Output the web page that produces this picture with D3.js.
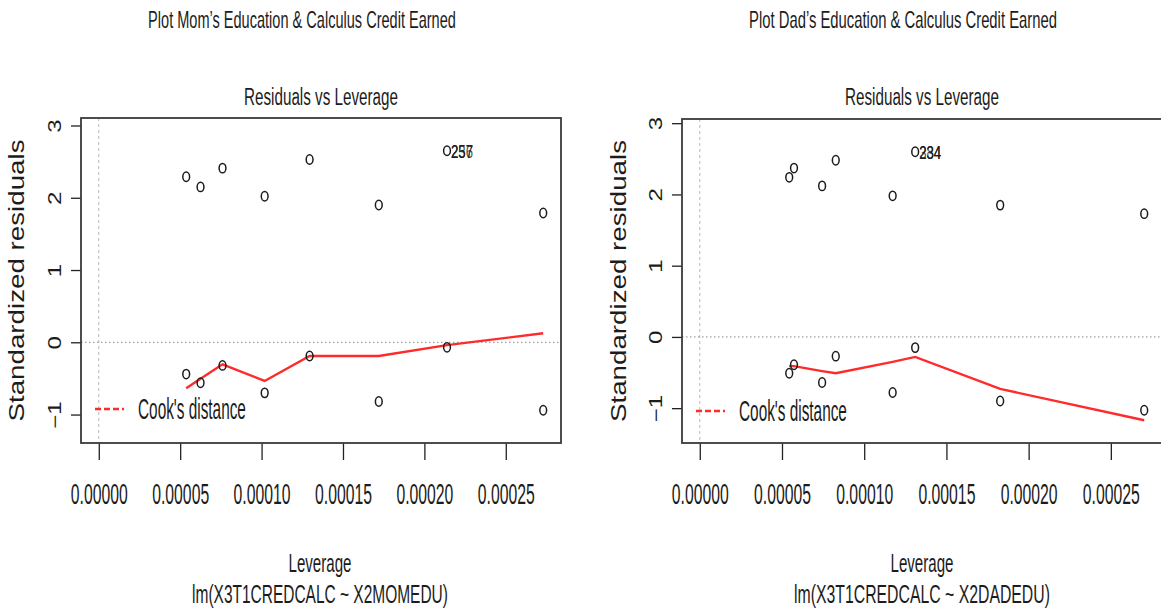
<!DOCTYPE html>
<html>
<head>
<meta charset="utf-8">
<title>Residuals vs Leverage</title>
<script src="https://cdn.jsdelivr.net/npm/d3@7"></script>
<style>
  body { margin: 0; background: #fff; }
  text { font-family: "Liberation Sans", Arial, sans-serif; fill: #1c1c1c; }
</style>
</head>
<body>
<div id="container"></div>
<script>

// Axis ticks shared by both panels
const leverageTicks = [0, 0.00005, 0.0001, 0.00015, 0.0002, 0.00025];
const residTicks = [-1, 0, 1, 2, 3];

// Mom's education model (lm(X3T1CREDCALC ~ X2MOMEDU))
const momLeverage  = [0.0000537, 0.0000625, 0.0000760, 0.0001019, 0.0001295, 0.0001720, 0.0002139, 0.0002730];
const momResidHigh = [2.29, 2.15, 2.41, 2.02, 2.53, 1.90, 2.65, 1.79];
const momResidLow  = [-0.44, -0.56, -0.32, -0.70, -0.19, -0.82, -0.07, -0.94];
const momSmooth    = [-0.635, -0.505, -0.305, -0.535, -0.19, -0.19, -0.04, 0.125];
const momLabels    = ["237", "256", "257"];

// Dad's education model (lm(X3T1CREDCALC ~ X2DADEDU))
const dadLeverage  = [0.0000544, 0.0000573, 0.0000744, 0.0000827, 0.0001173, 0.0001310, 0.0001827, 0.0002703];
const dadResidHigh = [2.24, 2.37, 2.12, 2.48, 1.98, 2.60, 1.85, 1.73];
const dadResidLow  = [-0.51, -0.39, -0.64, -0.27, -0.78, -0.15, -0.90, -1.03];
const dadSmooth    = [-0.41, -0.41, -0.48, -0.51, -0.35, -0.28, -0.73, -1.17];
const dadLabels    = ["234", "284", "334"];

const width = 1161, height = 611;

const svg = d3.select("#container")
  .append("svg")
  .attr("width", width)
  .attr("height", height);

// same as R's extendrange()
function extendRange(r, f) {
  const d = (r[1] - r[0]) * f;
  return [r[0] - d, r[1] + d];
}

// squeeze a text horizontally so it is len px wide (the reference is condensed)
function squeeze(sel, x, y, len, anchor) {
  sel.each(function() {
    const w = this.getComputedTextLength();
    d3.select(this)
      .attr("x", null).attr("y", null).attr("dy", null)
      .attr("text-anchor", anchor || "middle")
      .attr("transform", `translate(${x},${y}) scale(${len / w},1)`);
  });
  return sel;
}

function label(g, txt, cx, y, size, len, anchor) {
  const t = g.append("text").style("font-size", size + "px").text(txt);
  return squeeze(t, cx, y, len, anchor);
}

function drawPanel(cfg) {
  const g = svg.append("g");

  const x = d3.scaleLinear()
    .domain(extendRange([0, d3.max(cfg.lev)], 0.04))
    .range([cfg.left, cfg.right]);

  const allResid = cfg.high.concat(cfg.low);
  const y = d3.scaleLinear()
    .domain(extendRange(extendRange(d3.extent(allResid), 0.08), 0.04))
    .range([cfg.bottom, cfg.top]);

  // reference lines at 0
  g.append("line")
    .attr("x1", x(0)).attr("x2", x(0))
    .attr("y1", cfg.top).attr("y2", cfg.bottom)
    .attr("stroke", "#b8b8b8").attr("stroke-width", 1)
    .attr("stroke-dasharray", "3,3");
  g.append("line")
    .attr("x1", cfg.left).attr("x2", cfg.right)
    .attr("y1", y(0)).attr("y2", y(0))
    .attr("stroke", "#a0a0a0").attr("stroke-width", 1.2)
    .attr("stroke-dasharray", "1.5,2.5");

  // X axis
  const xAxis = g.append("g")
    .attr("transform", `translate(0,${cfg.bottom})`)
    .call(d3.axisBottom(x).tickValues(leverageTicks).tickSize(17).tickFormat(d3.format(".5f")));
  xAxis.select(".domain").remove();
  xAxis.selectAll(".tick line").attr("stroke", "#222").attr("stroke-width", 1.3);
  xAxis.selectAll(".tick text")
    .attr("fill", "#1c1c1c")
    .style("font-size", "30px")
    .style("font-family", "Liberation Sans, Arial, sans-serif")
    .call(s => squeeze(s, 0, 61, 57));

  // Y axis
  const yAxis = g.append("g")
    .attr("transform", `translate(${cfg.left},0)`)
    .call(d3.axisLeft(y).tickValues(residTicks).tickSize(10).tickFormat(d3.format("d")));
  yAxis.select(".domain").remove();
  yAxis.selectAll(".tick line").attr("stroke", "#222").attr("stroke-width", 1.3);
  yAxis.selectAll(".tick text")
    .attr("x", null).attr("dy", null)
    .attr("text-anchor", "middle")
    .attr("fill", "#1c1c1c")
    .style("font-size", "24px")
    .style("font-family", "Liberation Sans, Arial, sans-serif")
    .attr("transform", `translate(${cfg.yTickX - cfg.left + 8},0) scale(0.75,1) rotate(-90)`)
    .text(d => d < 0 ? "\u2212" + Math.abs(d) : d);

  // box
  g.append("rect")
    .attr("x", cfg.left).attr("y", cfg.top)
    .attr("width", cfg.right - cfg.left).attr("height", cfg.bottom - cfg.top)
    .attr("fill", "none").attr("stroke", "#3a3a3a").attr("stroke-width", 1.8);

  // smooth line
  const line = d3.line().x(d => x(d[0])).y(d => y(d[1]));
  g.append("path")
    .datum(d3.zip(cfg.lev, cfg.smooth))
    .attr("d", line)
    .attr("fill", "none").attr("stroke", "#ff2a2a").attr("stroke-width", 2.4);

  // points
  const pts = d3.zip(cfg.lev, cfg.high).concat(d3.zip(cfg.lev, cfg.low));
  g.selectAll(".pt")
    .data(pts)
    .enter().append("ellipse")
    .attr("class", "pt")
    .attr("cx", d => x(d[0])).attr("cy", d => y(d[1]))
    .attr("rx", 3.4).attr("ry", 4.7)
    .attr("fill", "none").attr("stroke", "#1c1c1c").attr("stroke-width", 1.5);

  // labels on the top point (all three land at the same spot)
  const topIdx = d3.maxIndex(cfg.high);
  cfg.labels.forEach(t => {
    label(g, t, x(cfg.lev[topIdx]) + 4, y(cfg.high[topIdx]) + 7, 19, 22, "start")
      .attr("fill-opacity", 0.8);
  });

  // legend
  g.append("line")
    .attr("x1", cfg.left + 14).attr("x2", cfg.left + 43)
    .attr("y1", cfg.legendY).attr("y2", cfg.legendY)
    .attr("stroke", "#ff2a2a").attr("stroke-width", 2.4)
    .attr("stroke-dasharray", "6,3");
  label(g, "Cook's distance", cfg.left + 57, cfg.legendY + 10, 29, 108, "start");

  // titles
  const cx = (cfg.left + cfg.right) / 2;
  label(g, cfg.title, cfg.titleX, 28, 23, 308);
  label(g, "Residuals vs Leverage", cx, 105, 23, 154);
  label(g, "Leverage", cfg.axisX, 572, 25, 63);
  label(g, cfg.formula, cfg.axisX, 603, 25, 256);

  // y label
  g.append("text")
    .attr("transform", `translate(${cfg.yLabelX + 8},${(cfg.top + cfg.bottom) / 2}) scale(0.78,1) rotate(-90)`)
    .attr("text-anchor", "middle")
    .style("font-size", "28px")
    .attr("textLength", 282)
    .attr("lengthAdjust", "spacingAndGlyphs")
    .text("Standardized residuals");
}

drawPanel({
  lev: momLeverage, high: momResidHigh, low: momResidLow, smooth: momSmooth, labels: momLabels,
  left: 81, right: 561, top: 118, bottom: 443,
  yTickX: 53, yLabelX: 16, legendY: 409,
  title: "Plot Mom\u2019s Education & Calculus Credit Earned", titleX: 302,
  axisX: 320, formula: "lm(X3T1CREDCALC ~ X2MOMEDU)"
});

drawPanel({
  lev: dadLeverage, high: dadResidHigh, low: dadResidLow, smooth: dadSmooth, labels: dadLabels,
  left: 682, right: 1162, top: 119, bottom: 443,
  yTickX: 654, yLabelX: 618, legendY: 411,
  title: "Plot Dad\u2019s Education & Calculus Credit Earned", titleX: 903,
  axisX: 922, formula: "lm(X3T1CREDCALC ~ X2DADEDU)"
});

</script>
</body>
</html>
